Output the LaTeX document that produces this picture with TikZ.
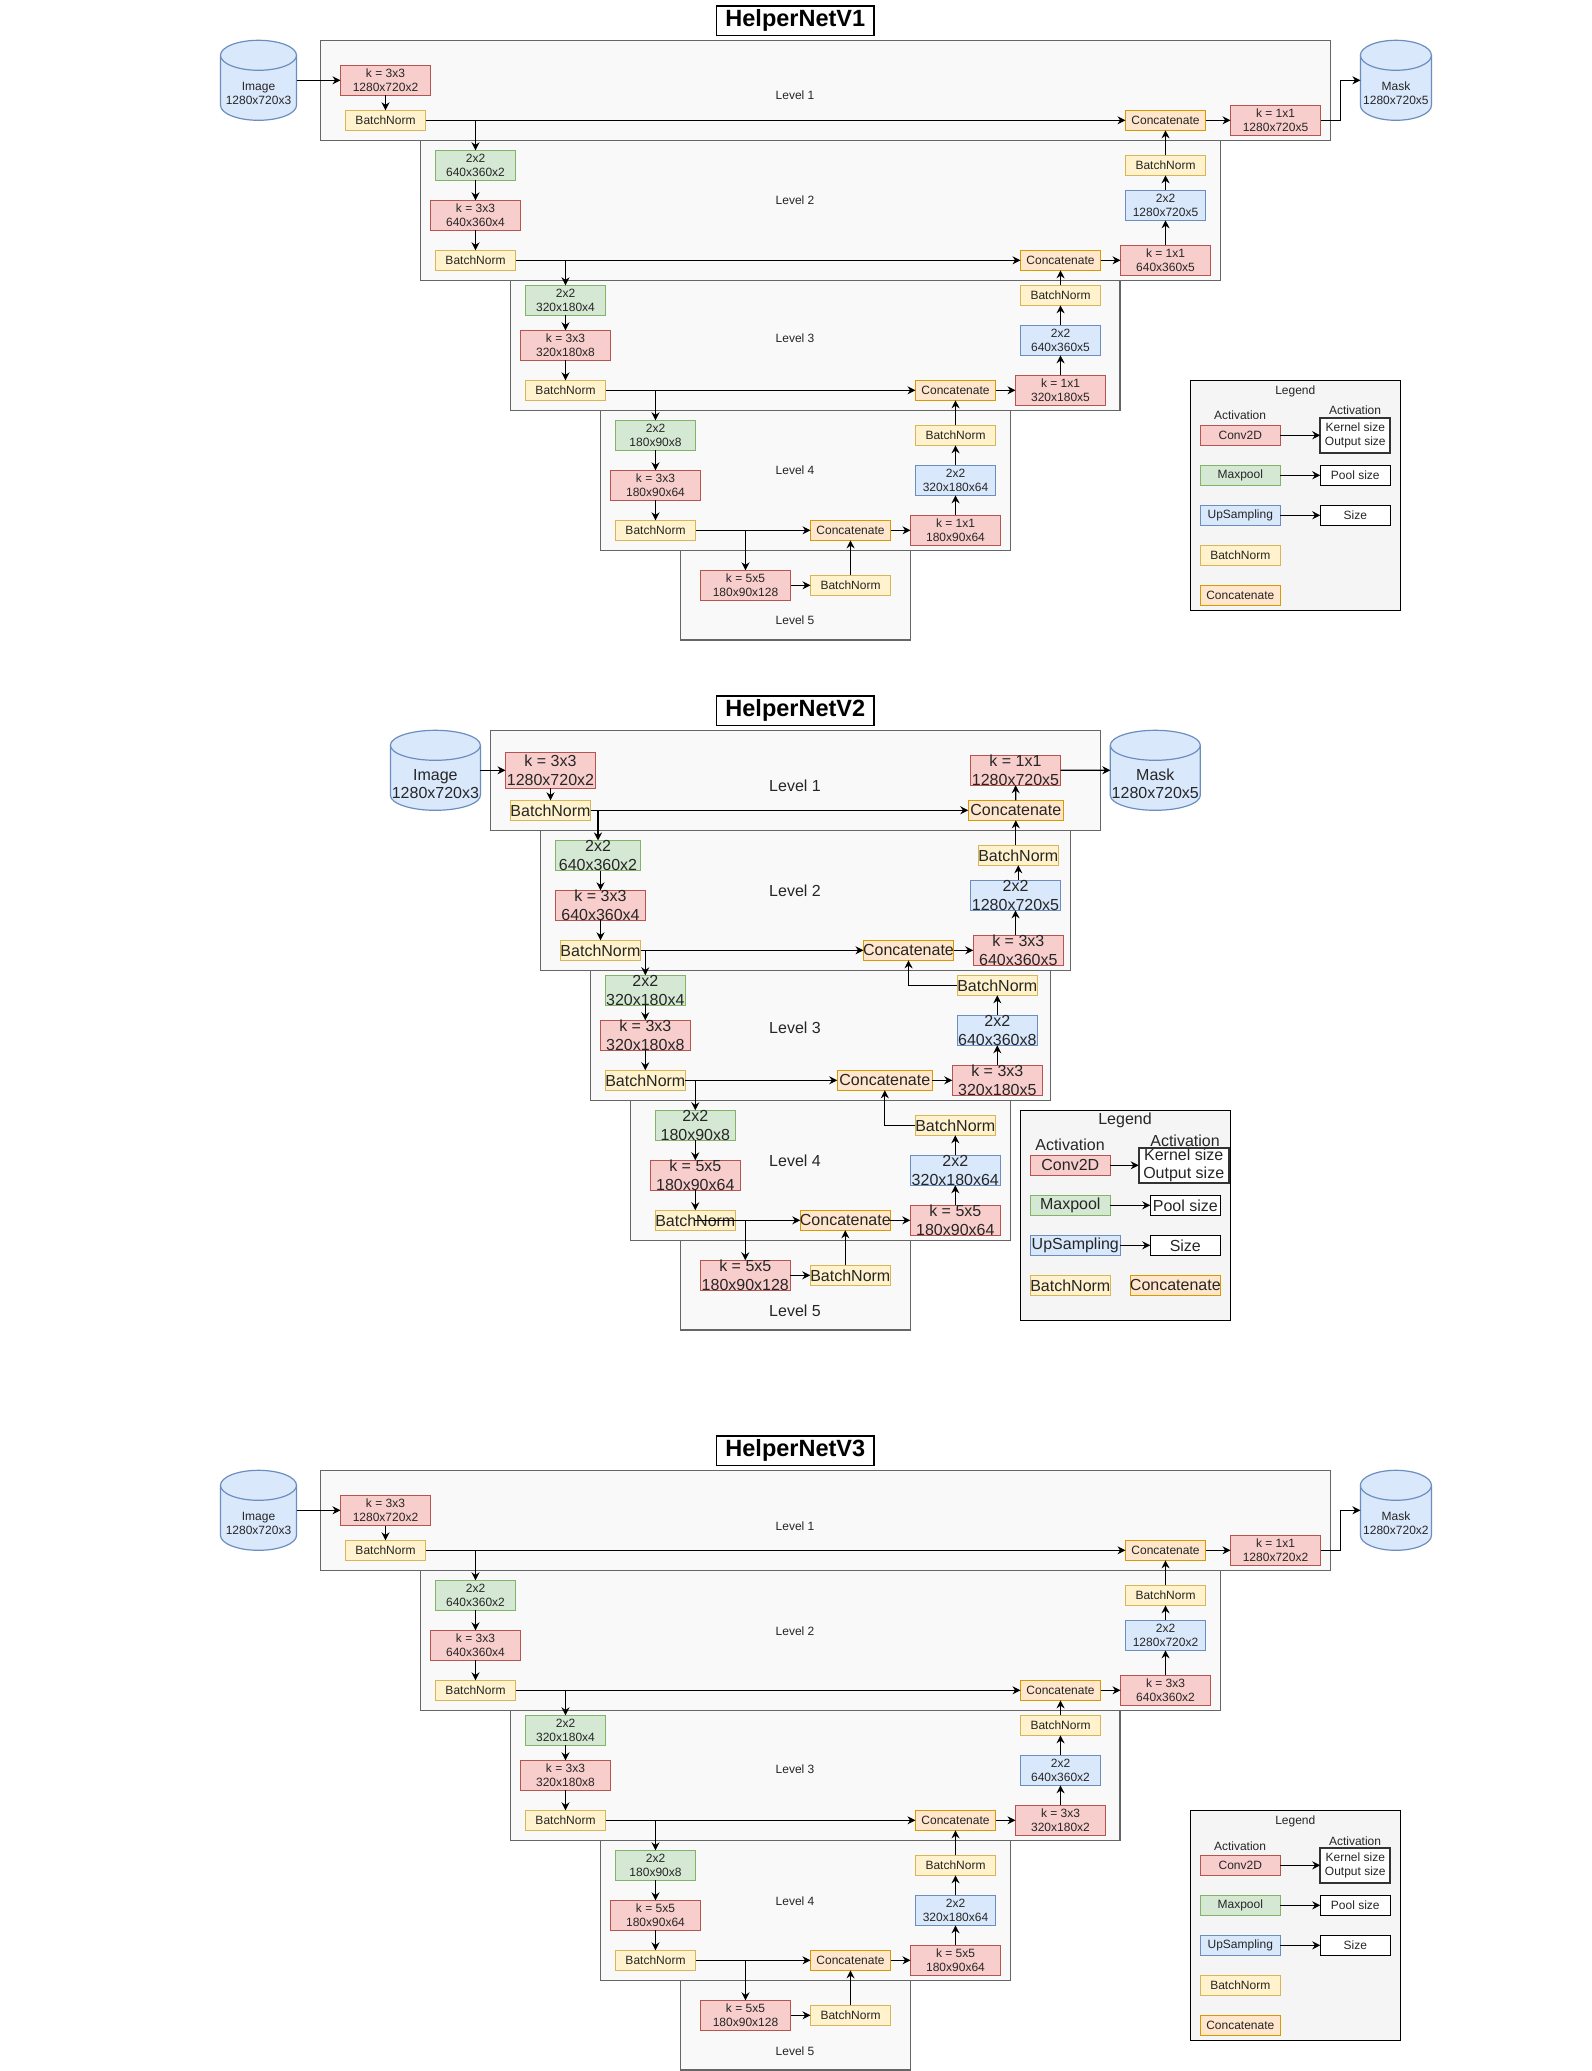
\documentclass[tikz,border=0pt]{standalone}
\usepackage{fontspec}
\setmainfont{Liberation Sans}
\usetikzlibrary{arrows.meta}

\definecolor{convF}{HTML}{F8CECC}\definecolor{convD}{HTML}{B85450}
\definecolor{poolF}{HTML}{D5E8D4}\definecolor{poolD}{HTML}{82B366}
\definecolor{upF}{HTML}{DAE8FC}\definecolor{upD}{HTML}{6C8EBF}
\definecolor{bnF}{HTML}{FFF2CC}\definecolor{bnD}{HTML}{D6B656}
\definecolor{catF}{HTML}{FFE6CC}\definecolor{catD}{HTML}{D79B00}
\definecolor{lvlF}{HTML}{F9F9F9}\definecolor{lvlD}{HTML}{666666}
\definecolor{legF}{HTML}{F5F5F5}
\definecolor{ink}{HTML}{262626}

\tikzset{
  blk/.style={draw, line width=0.5pt, inner sep=0pt, outer sep=0pt},
  conv/.style={blk, fill=convF, draw=convD},
  pool/.style={blk, fill=poolF, draw=poolD},
  upsm/.style={blk, fill=upF, draw=upD},
  bnorm/.style={blk, fill=bnF, draw=bnD},
  catn/.style={blk, fill=catF, draw=catD},
  infobox/.style={blk, fill=white, draw=black},
  kbox/.style={blk, fill=white, draw=black!80, line width=0.9pt},
  lvl/.style={fill=lvlF, draw=lvlD, line width=0.6pt},
  legbox/.style={fill=legF, draw=black, line width=0.6pt},
  cyl/.style={fill=upF, draw=upD, line width=0.6pt},
  arr/.style={-{Stealth[length=4pt,width=4pt]}, line width=0.6pt, black},
  lbl/.style={font=\fontsize{6}{6.9}\selectfont, align=center, text=ink, inner sep=0pt},
  lvltxt/.style={font=\fontsize{6}{7}\selectfont, text=ink, inner sep=0pt},
  titlebox/.style={draw=black, fill=white, line width=0.7pt, inner sep=0pt,
    minimum width=78.8pt, minimum height=14.7pt,
    font=\fontsize{11.75}{14}\selectfont\bfseries},
}

% block: style, name, x, y, width(px), height(px), text
\newcommand\blkn[7]{\node[#1, minimum width=#5*0.5pt, minimum height=#6*0.5pt,
  label={[lbl]center:{#7}}] (#2) at (#3,#4) {};}

% data volume drawn as a cylinder: name, left, top, width, height
\newcommand\cylnode[5]{%
  \filldraw[cyl] (#2,#3+15) -- (#2,#3+#5-15)
    arc[start angle=180, end angle=360, x radius=#4*0.25pt, y radius=7.5pt]
    -- (#2+#4,#3+15)
    arc[start angle=0, end angle=180, x radius=#4*0.25pt, y radius=7.5pt] -- cycle;
  \draw[cyl] (#2,#3+15) arc[start angle=180, end angle=360, x radius=#4*0.25pt, y radius=7.5pt];
  \node[inner sep=0pt, outer sep=0pt, minimum width=#4*0.5pt, minimum height=#5*0.5pt]
    (#1) at (#2+#4/2,#3+#5/2) {};
}

% five-level encoder/decoder with its legend
\newcommand\unetpanel[9]{%
  \draw[lvl] (320.5,40.3) rectangle (1330.7,140.3);
  \draw[lvl] (420.5,140.3) rectangle (1220.7,280.3);
  \draw[lvl] (510.3,280.3) rectangle (1120,410.3);
  \draw[lvl] (600.4,410.3) rectangle (1010.5,550.3);
  \draw[lvl] (680.7,550.3) rectangle (910.4,640);
  \node[lvltxt] (#1lv1) at (795,95.7) {Level 1};
  \node[lvltxt] (#1lv2) at (795,200.7) {Level 2};
  \node[lvltxt] (#1lv3) at (795,338.7) {Level 3};
  \node[lvltxt] (#1lv4) at (795,470.7) {Level 4};
  \node[lvltxt] (#1lv5) at (795,620.7) {Level 5};
  \cylnode{#1img}{220.5}{40.3}{76}{80}
  \node[lbl] (#1imgt) at (258.5,93.5) {Image\\1280x720x3};
  \cylnode{#1msk}{1360.4}{40.3}{71}{80}
  \node[lbl] (#1mskt) at (1395.9,93.5) {Mask\\#2};
  % encoder
  \blkn{conv}{#1c1}{385.5}{80.5}{90}{30}{k = 3x3\\1280x720x2}
  \blkn{bnorm}{#1b1}{385.5}{120.3}{80}{20}{BatchNorm}
  \blkn{pool}{#1p2}{475.5}{165.3}{80}{30}{2x2\\640x360x2}
  \blkn{conv}{#1c2}{475.5}{215.3}{90}{30}{k = 3x3\\640x360x4}
  \blkn{bnorm}{#1b2}{475.5}{260.3}{80}{20}{BatchNorm}
  \blkn{pool}{#1p3}{565.5}{300.3}{80}{30}{2x2\\320x180x4}
  \blkn{conv}{#1c3}{565.5}{345.3}{90}{30}{k = 3x3\\320x180x8}
  \blkn{bnorm}{#1b3}{565.5}{390.3}{80}{20}{BatchNorm}
  \blkn{pool}{#1p4}{655.5}{435.3}{80}{30}{2x2\\180x90x8}
  \blkn{conv}{#1c4}{655.5}{485.3}{90}{30}{#8}
  \blkn{bnorm}{#1b4}{655.5}{530.3}{80}{20}{BatchNorm}
  \blkn{conv}{#1c5}{745.5}{585.3}{90}{30}{k = 5x5\\180x90x128}
  \blkn{bnorm}{#1b5}{850.5}{585.3}{80}{20}{BatchNorm}
  % decoder
  \blkn{catn}{#1k4}{850.5}{530.3}{80}{20}{Concatenate}
  \blkn{conv}{#1r4}{955.5}{530.3}{90}{30}{#9}
  \blkn{upsm}{#1u4}{955.5}{480.3}{80}{30}{2x2\\320x180x64}
  \blkn{bnorm}{#1d4}{955.5}{435.3}{80}{20}{BatchNorm}
  \blkn{catn}{#1k3}{955.5}{390.3}{80}{20}{Concatenate}
  \blkn{conv}{#1r3}{1060.5}{390.3}{90}{30}{#7}
  \blkn{upsm}{#1u3}{1060.5}{340.3}{80}{30}{#6}
  \blkn{bnorm}{#1d3}{1060.5}{295.3}{80}{20}{BatchNorm}
  \blkn{catn}{#1k2}{1060.5}{260.3}{80}{20}{Concatenate}
  \blkn{conv}{#1r2}{1165.5}{260.3}{90}{30}{#5}
  \blkn{upsm}{#1u2}{1165.5}{205.3}{80}{30}{#4}
  \blkn{bnorm}{#1d2}{1165.5}{165.3}{80}{20}{BatchNorm}
  \blkn{catn}{#1k1}{1165.5}{120.3}{80}{20}{Concatenate}
  \blkn{conv}{#1r1}{1275.5}{120.3}{90}{30}{#3}
  % connections
  \draw[arr] (#1img.east) -- (#1img.east -| #1c1.west);
  \draw[arr] (#1c1) -- (#1b1);
  \draw[arr] (#1b1) -- (#1k1);
  \draw[arr] (#1b1.east -| #1p2.north) -- (#1p2);
  \draw[arr] (#1p2) -- (#1c2);
  \draw[arr] (#1c2) -- (#1b2);
  \draw[arr] (#1b2) -- (#1k2);
  \draw[arr] (#1b2.east -| #1p3.north) -- (#1p3);
  \draw[arr] (#1p3) -- (#1c3);
  \draw[arr] (#1c3) -- (#1b3);
  \draw[arr] (#1b3) -- (#1k3);
  \draw[arr] (#1b3.east -| #1p4.north) -- (#1p4);
  \draw[arr] (#1p4) -- (#1c4);
  \draw[arr] (#1c4) -- (#1b4);
  \draw[arr] (#1b4) -- (#1k4);
  \draw[arr] (#1b4.east -| #1c5.north) -- (#1c5);
  \draw[arr] (#1c5) -- (#1b5);
  \draw[arr] (#1b5) -- (#1k4);
  \draw[arr] (#1k4) -- (#1r4);
  \draw[arr] (#1r4) -- (#1u4);
  \draw[arr] (#1u4) -- (#1d4);
  \draw[arr] (#1d4) -- (#1k3);
  \draw[arr] (#1k3) -- (#1r3);
  \draw[arr] (#1r3) -- (#1u3);
  \draw[arr] (#1u3) -- (#1d3);
  \draw[arr] (#1d3) -- (#1k2);
  \draw[arr] (#1k2) -- (#1r2);
  \draw[arr] (#1r2) -- (#1u2);
  \draw[arr] (#1u2) -- (#1d2);
  \draw[arr] (#1d2) -- (#1k1);
  \draw[arr] (#1k1) -- (#1r1);
  \draw[arr] (#1r1.east) -- ++(20,0) |- (#1msk.west);
  % legend
  \draw[legbox] (1190.3,380.3) rectangle (1400.3,610.3);
  \node[lbl] (#1lg) at (1295.3,391) {Legend};
  \node[lbl] (#1la) at (1240,415.7) {Activation};
  \node[lbl] (#1lr) at (1355,410.7) {Activation};
  \blkn{conv}{#1lc}{1240.3}{435.3}{80}{20}{Conv2D}
  \blkn{pool}{#1lp}{1240.3}{475.3}{80}{20}{Maxpool}
  \blkn{upsm}{#1lu}{1240.3}{515.3}{80}{20}{UpSampling}
  \blkn{bnorm}{#1lb}{1240.3}{555.3}{80}{20}{BatchNorm}
  \blkn{catn}{#1lk}{1240.3}{595.3}{80}{20}{Concatenate}
  \blkn{kbox}{#1lks}{1355.3}{435.3}{70}{35}{Kernel size\\Output size}
  \blkn{infobox}{#1lps}{1355.3}{475.3}{70}{20}{Pool size}
  \blkn{infobox}{#1lss}{1355.3}{515.3}{70}{20}{Size}
  \draw[arr] (#1lc) -- (#1lks);
  \draw[arr] (#1lp) -- (#1lps);
  \draw[arr] (#1lu) -- (#1lss);
}

\begin{document}
\begin{tikzpicture}[x=0.5pt, y=-0.5pt]
\fill[white] (0,0) rectangle (1591,2071);
\useasboundingbox (0,0) rectangle (1591,2071);

% ---------------- HelperNetV1 ----------------
\node[titlebox] (titleA) at (795.3,20.7) {HelperNetV1};
\unetpanel{a}{1280x720x5}{k = 1x1\\1280x720x5}{2x2\\1280x720x5}{k = 1x1\\640x360x5}{2x2\\640x360x5}{k = 1x1\\320x180x5}{k = 3x3\\180x90x64}{k = 1x1\\180x90x64}

% ---------------- HelperNetV3 ----------------
\begin{scope}[yshift=-715pt]
\node[titlebox] (titleC) at (795.3,20.7) {HelperNetV3};
\unetpanel{c}{1280x720x2}{k = 1x1\\1280x720x2}{2x2\\1280x720x2}{k = 3x3\\640x360x2}{2x2\\640x360x2}{k = 3x3\\320x180x2}{k = 5x5\\180x90x64}{k = 5x5\\180x90x64}
\end{scope}

% ---------------- HelperNetV2 ----------------
\begin{scope}[lbl/.style={font=\fontsize{8}{9.2}\selectfont, align=center, text=ink, inner sep=0pt},
              lvltxt/.style={font=\fontsize{8}{9}\selectfont, text=ink, inner sep=0pt}]
\node[titlebox] (titleB) at (795.3,710.7) {HelperNetV2};
\draw[lvl] (490.4,730.3) rectangle (1100.3,830.3);
\draw[lvl] (540.4,830.3) rectangle (1070.3,970.3);
\draw[lvl] (590.3,970.3) rectangle (1050.7,1100.3);
\draw[lvl] (630.3,1100.3) rectangle (1010.3,1240.3);
\draw[lvl] (680.3,1240.3) rectangle (910.3,1330);
\node[lvltxt] (blv1) at (795,785.3) {Level 1};
\node[lvltxt] (blv2) at (795,890.3) {Level 2};
\node[lvltxt] (blv3) at (795,1027.3) {Level 3};
\node[lvltxt] (blv4) at (795,1160.3) {Level 4};
\node[lvltxt] (blv5) at (795,1310.3) {Level 5};
\cylnode{bimg}{390.4}{730.3}{90}{80}
\node[lbl] (bimgt) at (435.4,783.8) {Image\\1280x720x3};
\cylnode{bmsk}{1110.3}{730.3}{90}{80}
\node[lbl] (bmskt) at (1155.3,783.8) {Mask\\1280x720x5};
% encoder
\blkn{conv}{bc1}{550.5}{770.3}{90}{36}{k = 3x3\\1280x720x2}
\blkn{bnorm}{bb1}{550.5}{810.3}{80}{20}{BatchNorm}
\blkn{pool}{bp2}{598}{855.5}{85}{30}{2x2\\640x360x2}
\blkn{conv}{bc2}{600.5}{905.3}{90}{30}{k = 3x3\\640x360x4}
\blkn{bnorm}{bb2}{600.5}{950.3}{80}{20}{BatchNorm}
\blkn{pool}{bp3}{645.3}{990.3}{80}{30}{2x2\\320x180x4}
\blkn{conv}{bc3}{645.3}{1035.3}{90}{30}{k = 3x3\\320x180x8}
\blkn{bnorm}{bb3}{645.3}{1080.3}{80}{20}{BatchNorm}
\blkn{pool}{bp4}{695.3}{1125.3}{80}{30}{2x2\\180x90x8}
\blkn{conv}{bc4}{695.3}{1175.3}{90}{30}{k = 5x5\\180x90x64}
\blkn{bnorm}{bb4}{695.3}{1220.3}{80}{20}{BatchNorm}
\blkn{conv}{bc5}{745.3}{1275.3}{90}{30}{k = 5x5\\180x90x128}
\blkn{bnorm}{bb5}{850.3}{1275.3}{80}{20}{BatchNorm}
% decoder
\blkn{catn}{bk4}{845.3}{1220.3}{90}{20}{Concatenate}
\blkn{conv}{br4}{955.3}{1220.3}{90}{30}{k = 5x5\\180x90x64}
\blkn{upsm}{bu4}{955.3}{1170.3}{90}{30}{2x2\\320x180x64}
\blkn{bnorm}{bd4}{955.3}{1125.3}{80}{20}{BatchNorm}
\blkn{catn}{bk3}{884.8}{1080.3}{95}{20}{Concatenate}
\blkn{conv}{br3}{997.3}{1080.3}{90}{30}{k = 3x3\\320x180x5}
\blkn{upsm}{bu3}{997.3}{1030.3}{80}{30}{2x2\\640x360x8}
\blkn{bnorm}{bd3}{997.3}{985.3}{80}{20}{BatchNorm}
\blkn{catn}{bk2}{908.5}{950.3}{90}{20}{Concatenate}
\blkn{conv}{br2}{1018.3}{950.3}{90}{30}{k = 3x3\\640x360x5}
\blkn{upsm}{bu2}{1015.5}{895.3}{90}{30}{2x2\\1280x720x5}
\blkn{bnorm}{bd2}{1018.3}{855.3}{80}{20}{BatchNorm}
\blkn{catn}{bk1}{1015.8}{810.3}{95}{20}{Concatenate}
\blkn{conv}{br1}{1015.5}{770.2}{90}{30}{k = 1x1\\1280x720x5}
% connections
\draw[arr] (bimg) -- (bc1);
\draw[arr] (bc1) -- (bb1);
\draw[arr] (bb1) -- (bk1);
\draw[arr] (bb1.east -| bp2.north) -- (bp2);
\draw[arr] (bp2.south -| bc2.north) -- (bc2.north);
\draw[arr] (bc2) -- (bb2);
\draw[arr] (bb2) -- (bk2);
\draw[arr] (bb2.east -| bp3.north) -- (bp3);
\draw[arr] (bp3) -- (bc3);
\draw[arr] (bc3) -- (bb3);
\draw[arr] (bb3) -- (bk3);
\draw[arr] (bb3.east -| bp4.north) -- (bp4);
\draw[arr] (bp4) -- (bc4);
\draw[arr] (bc4) -- (bb4);
\draw[arr] (bb4.center) -- (bk4);
\draw[arr] (bb4.east -| bc5.north) -- (bc5);
\draw[arr] (bc5) -- (bb5);
\draw[arr] (bk4.south |- bb5.north) -- (bk4);
\draw[arr] (bk4) -- (br4);
\draw[arr] (br4) -- (bu4);
\draw[arr] (bu4) -- (bd4);
\draw[arr] (bd4.west) -| (bk3);
\draw[arr] (bk3) -- (br3);
\draw[arr] (br3) -- (bu3);
\draw[arr] (bu3) -- (bd3);
\draw[arr] (bd3.west) -| (bk2);
\draw[arr] (bk2) -- (br2);
\draw[arr] (bu2.south |- br2.north) -- (bu2);
\draw[arr] (bd2.south |- bu2.north) -- (bd2);
\draw[arr] (bk1.south |- bd2.north) -- (bk1);
\draw[arr] (bk1) -- (br1);
\draw[arr] (br1) -- (bmsk);
% legend
\draw[legbox] (1020.3,1110.3) rectangle (1230.3,1320.3);
\node[lbl] (blg) at (1125,1120.7) {Legend};
\node[lbl] (bla) at (1070,1145) {Activation};
\node[lbl] (blr) at (1185,1140.7) {Activation};
\blkn{conv}{blc}{1070.3}{1165.3}{80}{20}{Conv2D}
\blkn{kbox}{blks}{1183.7}{1165.5}{90}{35}{Kernel size\\Output size}
\blkn{pool}{blp}{1070.3}{1205.3}{80}{20}{Maxpool}
\blkn{infobox}{blps}{1185.3}{1205.3}{70}{20}{Pool size}
\blkn{upsm}{blu}{1075.3}{1245.3}{90}{20}{UpSampling}
\blkn{infobox}{blss}{1185.3}{1245.3}{70}{20}{Size}
\blkn{bnorm}{blb}{1070.3}{1285.3}{80}{20}{BatchNorm}
\blkn{catn}{blk}{1175.3}{1285.3}{90}{20}{Concatenate}
\draw[arr] (blc) -- (blks.west |- blc.east);
\draw[arr] (blp) -- (blps);
\draw[arr] (blu) -- (blss);
\end{scope}
\end{tikzpicture}
\end{document}
